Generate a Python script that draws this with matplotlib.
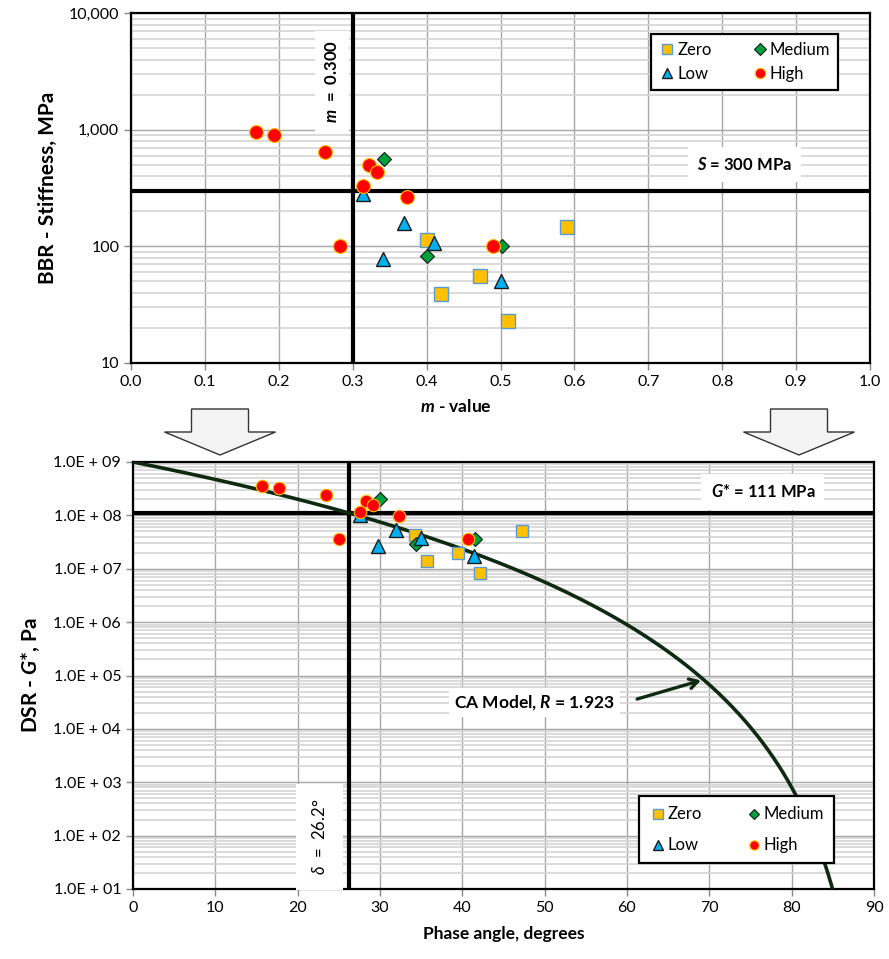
import numpy as np
import matplotlib.pyplot as plt
from matplotlib.patches import Polygon
from matplotlib.ticker import FuncFormatter, LogLocator, NullFormatter

plt.rcParams['font.family'] = ['Lato', 'DejaVu Sans']
plt.rcParams['mathtext.fontset'] = 'custom'
plt.rcParams['mathtext.rm'] = 'Lato'
plt.rcParams['mathtext.it'] = 'Lato:italic'
plt.rcParams['mathtext.bf'] = 'Lato:bold'
plt.rcParams['mathtext.bfit'] = 'Lato:italic:bold'

# BBR results: m-value and creep stiffness (MPa)
m_zero = [0.40, 0.59, 0.472, 0.419, 0.51]
S_zero = [114, 145, 55, 39, 23]
m_low = [0.314, 0.369, 0.41, 0.341, 0.50]
S_low = [283, 157, 107, 78, 50]
m_med = [0.342, 0.40, 0.502]
S_med = [563, 83, 100]
m_high = [0.169, 0.193, 0.262, 0.322, 0.333, 0.314, 0.373, 0.283, 0.490]
S_high = [953, 897, 646, 500, 435, 330, 264, 100, 100]

# DSR results: phase angle (deg) and G* (Pa)
d_zero = [34.3, 47.3, 39.5, 35.7, 42.1]
G_zero = [4.35e7, 5.2e7, 1.95e7, 1.4e7, 8.2e6]
d_low = [27.6, 32.0, 29.8, 35.0, 41.4]
G_low = [1.0e8, 5.33e7, 2.67e7, 3.73e7, 1.74e7]
d_med = [29.97, 34.35, 41.55]
G_med = [2.06e8, 2.91e7, 3.6e7]
d_high = [15.64, 17.70, 23.41, 28.3, 29.2, 27.6, 32.3, 25.07, 40.7]
G_high = [3.56e8, 3.31e8, 2.41e8, 1.84e8, 1.55e8, 1.16e8, 9.75e7, 3.56e7, 3.6e7]

m_crit = 0.300
S_crit = 300
delta_crit = 26.2
G_crit = 1.11e8

# Christensen-Anderson model
R = 1.923
G_glassy = 1e9
delta = np.linspace(0, 89.9, 600)
G_ca = G_glassy * ((90 - delta) / 90) ** (R / np.log10(2))

styles = {
    'Zero': dict(marker='s', mfc='#ffc000', mec='#5b9bd5', mew=1.0),
    'Low': dict(marker='^', mfc='#00b0f0', mec='#1a1a1a', mew=1.0),
    'Medium': dict(marker='D', mfc='#00a03c', mec='#1a1a1a', mew=0.8),
    'High': dict(marker='o', mfc='#ff0000', mec='#ffc000', mew=0.8),
}
sizes = {'Zero': 10, 'Low': 10.5, 'Medium': 7.5, 'High': 10}

W, H = 889, 959
fig = plt.figure(figsize=(W / 100, H / 100), dpi=100)
ax1 = fig.add_axes([131 / W, 1 - 362.7 / H, 739 / W, 349.4 / H])
ax2 = fig.add_axes([133 / W, 1 - 889 / H, 741 / W, 427 / H])


def style_log_axis(ax):
    ax.set_yscale('log')
    ax.yaxis.set_major_locator(LogLocator(base=10, numticks=12))
    ax.yaxis.set_minor_locator(LogLocator(base=10, subs=np.arange(2, 10), numticks=12))
    ax.yaxis.set_minor_formatter(NullFormatter())
    ax.grid(which='major', axis='both', color='#a6a6a6', lw=1.0, zorder=0)
    ax.grid(which='minor', axis='y', color='#d4d4d4', lw=1.2, zorder=0)
    ax.set_axisbelow(True)
    ax.tick_params(which='minor', length=0)
    ax.tick_params(which='major', length=5, width=1, color='#888888', labelsize=11.5)
    for s in ax.spines.values():
        s.set_linewidth(1.6)
        s.set_color('black')


def draw_groups(ax, data, ms_scale=1.0):
    handles = {}
    for name, (x, y) in data.items():
        h, = ax.plot(x, y, ls='none', ms=sizes[name] * ms_scale, zorder=5,
                     label=name, **styles[name])
        handles[name] = h
    return [handles[k] for k in ['Zero', 'Low', 'Medium', 'High']]


# ---- top: BBR ----
style_log_axis(ax1)
ax1.set_xlim(0, 1)
ax1.set_ylim(10, 1e4)
ax1.set_xticks(np.arange(0, 1.01, 0.1))
ax1.xaxis.set_major_formatter(FuncFormatter(lambda v, _: f'{v:.1f}'))
ax1.yaxis.set_major_formatter(FuncFormatter(lambda v, _: f'{v:,.0f}'))
ax1.axvline(m_crit, color='black', lw=3, zorder=3)
ax1.axhline(S_crit, color='black', lw=3, zorder=3)

h1 = draw_groups(ax1, {'Zero': (m_zero, S_zero), 'Medium': (m_med, S_med),
                       'Low': (m_low, S_low), 'High': (m_high, S_high)})
leg1 = ax1.legend(handles=h1, ncol=2, loc='upper left', fontsize=12,
                  bbox_to_anchor=(643 / W, 1 - 26 / H), bbox_transform=fig.transFigure,
                  fancybox=False, edgecolor='black', framealpha=1, markerscale=0.75,
                  handletextpad=0.1, columnspacing=2.4, handlelength=1.0,
                  borderpad=0.45, labelspacing=0.5)
leg1.get_frame().set_linewidth(1.6)

box = dict(boxstyle='square,pad=0.55', fc='white', ec='none')
ax1.text(0.83, 500, r'$\mathbfit{S}$ = 300 MPa', ha='center', va='center',
         fontsize=12, fontweight='bold', bbox=box, zorder=4)
ax1.text(0.272, 2600, r'$\mathbfit{m}$  =  0.300', ha='center', va='center',
         rotation=90, fontsize=12, fontweight='bold', bbox=box, zorder=4)
ax1.set_ylabel('BBR - Stiffness, MPa', fontsize=15, fontweight='bold', labelpad=8)
ax1.set_xlabel(r'$\mathbfit{m}$ - value', fontsize=12.5, fontweight='bold', labelpad=6)
ax1.xaxis.set_label_coords(0.44, -0.1)

# ---- bottom: DSR ----
style_log_axis(ax2)
ax2.set_xlim(0, 90)
ax2.set_ylim(1e1, 1e9)
ax2.set_xticks(np.arange(0, 91, 10))
ax2.yaxis.set_major_formatter(
    FuncFormatter(lambda v, _: '1.0E + %02d' % int(round(np.log10(v)))))
ax2.axvline(delta_crit, color='black', lw=3, zorder=3)
ax2.axhline(G_crit, color='black', lw=3, zorder=3)
ax2.plot(delta, G_ca, color='#0e2a10', lw=2.6, zorder=4)

h2 = draw_groups(ax2, {'Zero': (d_zero, G_zero), 'Medium': (d_med, G_med),
                       'Low': (d_low, G_low), 'High': (d_high, G_high)}, ms_scale=0.9)
leg2 = ax2.legend(handles=h2, ncol=2, loc='upper left', fontsize=12,
                  bbox_to_anchor=(631 / W, 1 - 788 / H), bbox_transform=fig.transFigure,
                  fancybox=False, edgecolor='black', framealpha=1, markerscale=0.75,
                  handletextpad=0.1, columnspacing=2.6, handlelength=1.0,
                  borderpad=0.6, labelspacing=0.9)
leg2.get_frame().set_linewidth(1.6)
leg2.set_zorder(6)

ax2.text(76.5, 2.75e8, r'$\mathbfit{G}$* = 111 MPa', ha='center', va='center',
         fontsize=12, fontweight='bold', bbox=box, zorder=4)
ax2.text(22.7, 95, r'$\delta$  =  26.2°', ha='center', va='center', rotation=90,
         fontsize=12, bbox=dict(boxstyle='square,pad=0.9', fc='white', ec='none'),
         zorder=4)

delta_tip = 69.3
G_tip = G_glassy * ((90 - delta_tip) / 90) ** (R / np.log10(2))
ax2.annotate('', xy=(delta_tip, G_tip), xytext=(60.9, 3.5e4),
             arrowprops=dict(arrowstyle='->,head_length=0.6,head_width=0.35',
                             color='#0e2a10', lw=2.4), zorder=5)
ax2.text(58.5, 3.1e4, r'CA Model, $\mathbfit{R}$ = 1.923', ha='right', va='center',
         fontsize=12.5, fontweight='bold',
         bbox=dict(boxstyle='square,pad=0.3', fc='white', ec='none'), zorder=4)

ax2.set_ylabel(r'DSR - $\mathbfit{G}$*, Pa', fontsize=15, fontweight='bold', labelpad=8)
ax2.set_xlabel('Phase angle, degrees', fontsize=12.5, fontweight='bold', labelpad=8)


# hollow arrows linking the two charts
def down_arrow(cx, top=409, shaft_w=57, head_w=111, neck=432, tip=455):
    pts = [(cx - shaft_w / 2, top), (cx + shaft_w / 2, top), (cx + shaft_w / 2, neck),
           (cx + head_w / 2, neck), (cx, tip), (cx - head_w / 2, neck),
           (cx - shaft_w / 2, neck)]
    pts = [(x / W, 1 - y / H) for x, y in pts]
    fig.add_artist(Polygon(pts, closed=True, fc='#f4f4f4', ec='#333333', lw=1.0,
                           transform=fig.transFigure))


down_arrow(220)
down_arrow(799)

fig.savefig('out.png', dpi=100)
